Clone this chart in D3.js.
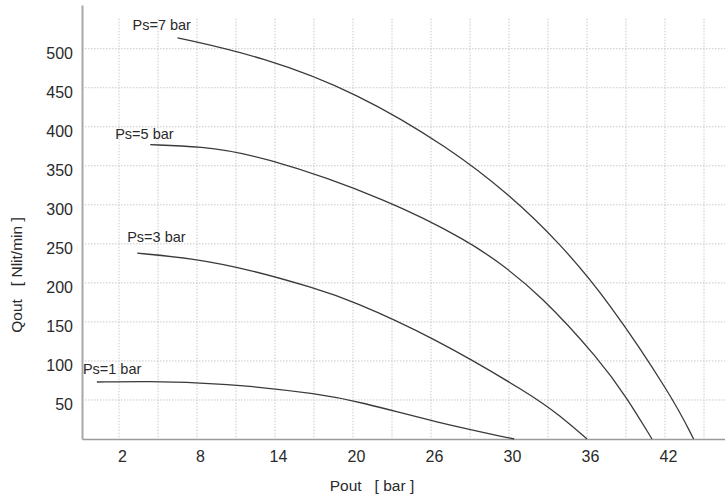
<!DOCTYPE html>
<html>
<head>
<meta charset="utf-8">
<script src="https://cdn.jsdelivr.net/npm/d3@7"></script>
<style>
  body { margin: 0; background: #fff; }
  svg { display: block; font-family: "Liberation Sans", Arial, sans-serif; }
</style>
</head>
<body>
<svg id="chart" width="725" height="496"></svg>
<script>
(function () {
    'use strict';

    // tick labels as printed on the chart (not evenly valued, evenly spaced)
    const xTicks = [2, 8, 14, 20, 26, 30, 36, 42];
    const yTicks = [50, 100, 150, 200, 250, 300, 350, 400, 450, 500];

    const seriesNames = ["Ps=1 bar", "Ps=3 bar", "Ps=5 bar", "Ps=7 bar"];

    // Pout [bar] / Qout [Nlit/min]
    const pout1 = [0.3, 4.4, 8.2, 12.1, 17.2, 20.5, 26.3, 30.4];
    const qout1 = [73, 74, 72, 68, 58, 48, 21, 0];

    const pout3 = [3.4, 7.5, 12.1, 17.1, 19.8, 26, 31.8, 33.9, 36.0];
    const qout3 = [238, 232, 217, 193, 178, 132, 56, 30, 0];

    const pout5 = [4.4, 8.2, 12.85, 22.85, 28.0, 29.5, 32.4, 37.0, 39.1, 41.0];
    const qout5 = [377, 375, 364, 306, 252, 226, 185, 101, 52, 0];

    const pout7 = [6.5, 13.0, 20.3, 27.0, 30.1, 33.9, 37.6, 42.6, 44.2];
    const qout7 = [514, 490, 444, 372, 312, 251, 178, 53, 0];

    const series = [
        {name: seriesNames[0], x: pout1, y: qout1},
        {name: seriesNames[1], x: pout3, y: qout3},
        {name: seriesNames[2], x: pout5, y: qout5},
        {name: seriesNames[3], x: pout7, y: qout7}
    ];

    const left = 82, right = 725, top = 5, bottom = 439;
    const firstTick = 119, tickStep = 78;

    // piecewise scale: labelled ticks sit on evenly spaced grid lines
    const x = d3.scaleLinear()
        .domain(xTicks)
        .range(xTicks.map((d, i) => firstTick + i * tickStep));
    x.domain([x.invert(left), ...xTicks, x.invert(right)])
        .range([left, ...xTicks.map((d, i) => firstTick + i * tickStep), right]);

    const y = d3.scaleLinear()
        .domain([0, 556])
        .range([bottom, top]);

    const svg = d3.select("#chart");

    // grid
    const gridX = [];
    xTicks.forEach(d => {
        gridX.push(x(d));
        gridX.push(x(d) + tickStep / 2);
    });

    const grid = svg.append("g")
        .attr("stroke", "#c8c8c8")
        .attr("stroke-width", 1)
        .attr("stroke-dasharray", "1.5,1.5");

    grid.selectAll("line.v")
        .data(gridX)
        .join("line")
        .attr("class", "v")
        .attr("x1", d => d).attr("x2", d => d)
        .attr("y1", y(yTicks[yTicks.length - 1]) - 30)
        .attr("y2", bottom);

    grid.selectAll("line.h")
        .data(yTicks)
        .join("line")
        .attr("class", "h")
        .attr("x1", left).attr("x2", right)
        .attr("y1", d => y(d)).attr("y2", d => y(d));

    // axes
    const xAxis = svg.append("g")
        .attr("transform", `translate(0,${bottom})`)
        .call(d3.axisBottom(x).tickValues(xTicks).tickSize(0).tickPadding(0));
    xAxis.select(".domain").attr("stroke", "#9a9a9a").attr("stroke-width", 1.5);
    xAxis.selectAll(".tick text")
        .attr("font-size", 16)
        .attr("fill", "#2a2a2a")
        .attr("font-family", null)
        .attr("dx", 3)
        .attr("dy", 23);

    const yAxis = svg.append("g")
        .attr("transform", `translate(${left},0)`)
        .call(d3.axisLeft(y).tickValues(yTicks).tickSize(0).tickPadding(9));
    yAxis.select(".domain").attr("stroke", "#a8a8a8").attr("stroke-width", 2);
    yAxis.selectAll(".tick text")
        .attr("font-size", 16)
        .attr("fill", "#2a2a2a")
        .attr("font-family", null)
        .attr("dy", "0.6em");

    // curves
    const line = d3.line()
        .x(d => x(d[0]))
        .y(d => y(d[1]))
        .curve(d3.curveBasis);

    svg.append("g")
        .selectAll("path")
        .data(series)
        .join("path")
        .attr("fill", "none")
        .attr("stroke", "#3a3a3a")
        .attr("stroke-width", 1.3)
        .attr("d", s => line(s.x.map((v, i) => [v, s.y[i]])));

    // curve labels, placed relative to each curve's first point
    const labelOffset = [[-14, -8], [-10, -11], [-35, -6], [-45, -8]];
    svg.append("g")
        .selectAll("text")
        .data(series)
        .join("text")
        .attr("x", (s, i) => x(s.x[0]) + labelOffset[i][0])
        .attr("y", (s, i) => y(s.y[0]) + labelOffset[i][1])
        .attr("font-size", 14.5)
        .attr("fill", "#2a2a2a")
        .text(s => s.name);

    // axis titles
    svg.append("text")
        .attr("x", 372)
        .attr("y", 491)
        .attr("text-anchor", "middle")
        .attr("font-size", 15.5)
        .attr("fill", "#2a2a2a")
        .attr("xml:space", "preserve")
        .text("Pout   [ bar ]");

    svg.append("text")
        .attr("transform", "translate(22,275) rotate(-90)")
        .attr("text-anchor", "middle")
        .attr("font-size", 15.5)
        .attr("fill", "#2a2a2a")
        .attr("xml:space", "preserve")
        .text("Qout   [ Nlit/min ]");
}());
</script>
</body>
</html>
